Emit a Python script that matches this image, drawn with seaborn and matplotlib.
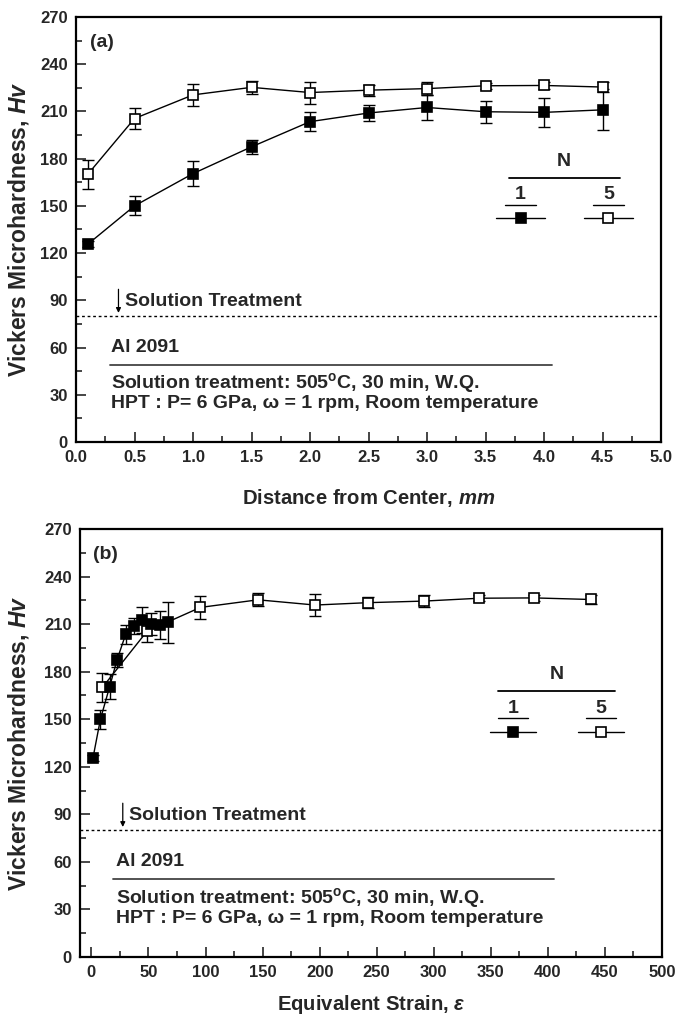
import numpy as np
import pandas as pd
import matplotlib
matplotlib.use("Agg")
import matplotlib.pyplot as plt
import seaborn as sns

# distance from center (mm), same for both N
distance = [0.1, 0.5, 1.0, 1.5, 2.0, 2.5, 3.0, 3.5, 4.0, 4.5]

# equivalent strain
strain_n1 = [1.4, 7.9, 16.0, 22.5, 30.0, 37.0, 44.7, 52.6, 60.0, 67.0]
strain_n5 = [9.6, 48.8, 95.5, 146.0, 196.0, 242.5, 291.7, 340.0, 388.0, 437.6]

# Vickers microhardness
hv_n1 = [125.6, 150.0, 170.5, 187.5, 203.5, 209.0, 212.5, 209.8, 209.4, 211.0]
err_n1 = [2.0, 6.0, 8.0, 4.5, 6.0, 5.0, 8.0, 7.0, 9.0, 13.0]
hv_n5 = [170.0, 205.5, 220.5, 225.3, 222.0, 223.5, 224.5, 226.3, 226.5, 225.5]
err_n5 = [9.0, 6.5, 7.0, 4.0, 7.0, 3.5, 4.0, 2.0, 2.0, 3.0]

solution_hv = 80

sns.set_style("ticks")
plt.rcParams['font.family'] = ['Liberation Sans', 'DejaVu Sans']
plt.rcParams['font.weight'] = 'bold'
plt.rcParams['mathtext.fontset'] = 'custom'
plt.rcParams['mathtext.rm'] = 'Liberation Sans:bold'
plt.rcParams['mathtext.it'] = 'Liberation Sans:italic:bold'
plt.rcParams['mathtext.bf'] = 'Liberation Sans:bold'

fig = plt.figure(figsize=(6.75, 10.17), dpi=100)
ax_a = fig.add_axes([0.1126, 0.5654, 0.8667, 0.4179])
ax_b = fig.add_axes([0.1185, 0.0590, 0.8622, 0.4209])

df_a = pd.DataFrame({'x1': distance, 'x5': distance, 'hv1': hv_n1, 'hv5': hv_n5,
                     'e1': err_n1, 'e5': err_n5})
df_b = pd.DataFrame({'x1': strain_n1, 'x5': strain_n5, 'hv1': hv_n1, 'hv5': hv_n5,
                     'e1': err_n1, 'e5': err_n5})

TXT = 14


def draw_panel(ax, df, cfg):
    # error bars first, markers on top
    for xc, yc, ec in [('x5', 'hv5', 'e5'), ('x1', 'hv1', 'e1')]:
        ax.errorbar(df[xc], df[yc], yerr=df[ec], fmt='none', ecolor='black',
                    elinewidth=1.0, capsize=4, capthick=1.0, zorder=2)
    sns.lineplot(data=df, x='x5', y='hv5', ax=ax, color='black', lw=1.0,
                 marker='s', markersize=7.5, markerfacecolor='white',
                 markeredgecolor='black', markeredgewidth=1.2, zorder=3)
    sns.lineplot(data=df, x='x1', y='hv1', ax=ax, color='black', lw=1.0,
                 marker='s', markersize=7.5, markerfacecolor='black',
                 markeredgecolor='black', markeredgewidth=1.2, zorder=4)

    ax.axhline(solution_hv, color='black', lw=1.0, ls=(0, (2, 2)))

    ax.set_xlim(cfg['xlim'])
    ax.set_ylim(0, 270)
    ax.set_xticks(cfg['xticks'])
    ax.set_xticks(cfg['xminor'], minor=True)
    ax.set_xticklabels(cfg['xticklabels'])
    ax.set_yticks(np.arange(0, 271, 30))
    ax.set_yticks(np.arange(15, 270, 30), minor=True)
    ax.tick_params(which='both', direction='in', top=False, right=False,
                   labelsize=12, width=1.2)
    ax.tick_params(which='major', length=7, pad=6)
    ax.tick_params(which='minor', length=4)
    for s in ax.spines.values():
        s.set_linewidth(1.6)
        s.set_color('black')

    ax.set_xlabel(cfg['xlabel'], fontsize=14.6, fontweight='bold')
    ax.set_ylabel(r'Vickers Microhardness, $\mathit{Hv}$', fontsize=16.5,
                  fontweight='bold')
    ax.yaxis.set_label_coords(cfg['ylabel_x'], 0.5)
    ax.xaxis.set_label_coords(0.5, cfg['xlabel_y'])

    ax.text(cfg['tag_x'], 254, cfg['tag'], fontsize=TXT, fontweight='bold',
            va='center', ha='left')

    # solution treatment marker
    ax.annotate('', xy=(cfg['arrow_x'], 82), xytext=(cfg['arrow_x'], 97),
                arrowprops=dict(arrowstyle='-|>', color='black', lw=0.9,
                                mutation_scale=7, shrinkA=0, shrinkB=0))
    ax.text(cfg['st_x'], 89, 'Solution Treatment', fontsize=TXT,
            fontweight='bold', va='center', ha='left')

    # alloy / process box
    ax.text(cfg['al_x'], 60, 'Al 2091', fontsize=TXT, fontweight='bold',
            va='center', ha='left')
    ax.plot(cfg['rule'], [49, 49], color='#444444', lw=1.3)
    ax.text(cfg['al_x'], 37.3, r'Solution treatment: 505$^{\mathrm{o}}$C, 30 min, W.Q.',
            fontsize=TXT, fontweight='bold', va='center', ha='left')
    ax.text(cfg['al_x'], 24.2, 'HPT : P= 6 GPa, \u03c9 = 1 rpm, Room temperature',
            fontsize=TXT, fontweight='bold', va='center', ha='left')

    # hand-made legend
    lg = cfg['legend']
    ax.text(lg['N'], 178, 'N', fontsize=TXT, fontweight='bold',
            ha='center', va='center')
    ax.plot(lg['rule'], [167.5, 167.5], color='black', lw=1.3)
    for key, face in [('1', 'black'), ('5', 'white')]:
        xc = lg[key]
        ax.text(xc, 157, key, fontsize=TXT, fontweight='bold',
                ha='center', va='center')
        ax.plot([xc - lg['short'], xc + lg['short']], [150.5, 150.5],
                color='black', lw=1.0)
        ax.plot([xc - lg['long'], xc + lg['long']], [142, 142], color='black',
                lw=1.0)
        ax.plot([xc], [142], marker='s', markersize=7.5, markerfacecolor=face,
                markeredgecolor='black', markeredgewidth=1.2, ls='none')


draw_panel(ax_a, df_a, dict(
    xlim=(0, 5), xticks=np.arange(0, 5.01, 0.5), xminor=np.arange(0.25, 5, 0.5),
    xticklabels=['%.1f' % v for v in np.arange(0, 5.01, 0.5)],
    xlabel=r'Distance from Center, $\mathit{mm}$', xlabel_y=-0.106,
    ylabel_x=-0.077,
    tag='(a)', tag_x=0.12, arrow_x=0.363, st_x=0.42, al_x=0.30,
    rule=[0.29, 4.07],
    legend={'N': 4.17, 'rule': [3.70, 4.65], '1': 3.80, '5': 4.55,
            'short': 0.13, 'long': 0.21}))

draw_panel(ax_b, df_b, dict(
    xlim=(-10, 500), xticks=np.arange(0, 501, 50), xminor=np.arange(25, 500, 50),
    xticklabels=[str(v) for v in range(0, 501, 50)],
    xlabel=r'Equivalent Strain, $\mathit{\varepsilon}$', xlabel_y=-0.084,
    ylabel_x=-0.084,
    tag='(b)', tag_x=1.0, arrow_x=27.5, st_x=33, al_x=21.5,
    rule=[19, 405],
    legend={'N': 408, 'rule': [356, 459], '1': 369.5, '5': 446.5,
            'short': 13, 'long': 20.5}))

fig.savefig('out.png', dpi=100)
